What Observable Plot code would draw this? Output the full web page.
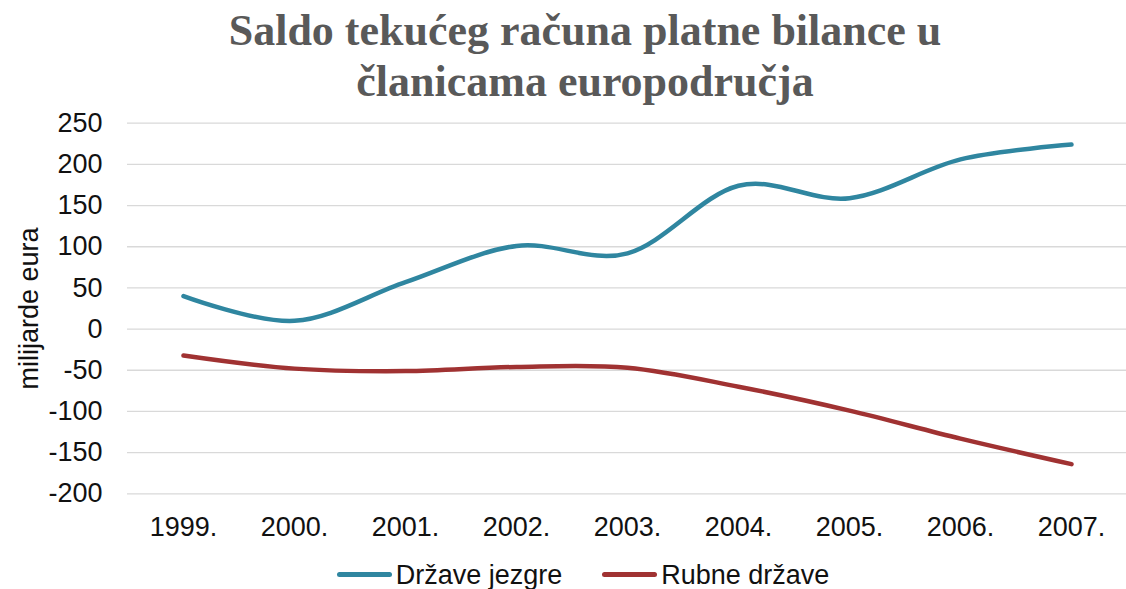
<!DOCTYPE html>
<html>
<head>
<meta charset="utf-8">
<script src="https://cdn.jsdelivr.net/npm/d3@7"></script>
<script src="https://cdn.jsdelivr.net/npm/@observablehq/plot@0.6"></script>
<style>
  html, body { margin: 0; padding: 0; background: #fff; }
  #title {
    font-family: "Liberation Serif", "Times New Roman", serif;
    font-weight: bold; font-size: 44px; line-height: 51px;
    color: #595959; text-align: center;
    box-sizing: border-box; height: 108px; padding-top: 5px; padding-left: 44px;
    width: 1126px;
  }
  #legend {
    font-family: "Liberation Sans", Arial, sans-serif; font-size: 27px; color: #111;
    display: flex; justify-content: center; align-items: center;
    box-sizing: border-box; width: 1126px; height: 41px; padding-top: 12px; padding-left: 40px;
    line-height: 30px;
  }
  .item { display: flex; align-items: center; margin-right: 40px; }
  .item:last-child { margin-right: 0; }
  .sw { display: inline-block; width: 55px; height: 4.5px; border-radius: 2.5px; margin-right: 4px; }
</style>
</head>
<body>
<div id="title">Saldo tekućeg računa platne bilance u<br>članicama europodručja</div>
<div id="chart"></div>
<div id="legend"></div>
<script>
const years = ["1999.", "2000.", "2001.", "2002.", "2003.", "2004.", "2005.", "2006.", "2007."];
const seriesNames = ["Države jezgre", "Rubne države"];
const seriesColors = ["#2f86a0", "#a03232"];
const coreValues = [40, 10, 57, 101, 92, 174, 159, 206, 224];
const peripheryValues = [-32, -48, -51, -46, -47, -70, -99, -133, -164];
const yTicks = [-200, -150, -100, -50, 0, 50, 100, 150, 200, 250];
const yLabel = "milijarde eura";

const data = [
  ...years.map((y, i) => ({year: y, value: coreValues[i], series: seriesNames[0]})),
  ...years.map((y, i) => ({year: y, value: peripheryValues[i], series: seriesNames[1]}))
];

const chart = Plot.plot({
  width: 1126,
  height: 440,
  marginLeft: 127,
  marginRight: 0,
  marginTop: 14.7,
  marginBottom: 54.7,
  style: {fontFamily: "'Liberation Sans', Arial, sans-serif", fontSize: "27px", color: "#111", background: "#fff", overflow: "visible"},
  x: {type: "point", domain: years, padding: 0.5, label: null, tickSize: 0, tickPadding: 22.7},
  y: {domain: [-200, 250], ticks: yTicks, tickFormat: d => String(d), label: null, tickSize: 0, tickPadding: 25},
  color: {domain: seriesNames, range: seriesColors},
  marks: [
    Plot.ruleY(yTicks, {stroke: "#d9d9d9", strokeWidth: 1.3}),
    Plot.line(data, {x: "year", y: "value", stroke: "series", z: "series", curve: "cardinal", tension: 0, strokeWidth: 4.5, strokeLinecap: "round", strokeLinejoin: "round"}),
    Plot.text([yLabel], {text: d => d, frameAnchor: "left", textAnchor: "middle", lineAnchor: "middle", dx: -98, rotate: -90, fontSize: 27, fill: "#111"})
  ]
});
document.getElementById("chart").appendChild(chart);

const legend = d3.select("#legend");
seriesNames.forEach((name, i) => {
  const it = legend.append("div").attr("class", "item");
  it.append("span").attr("class", "sw").style("background", seriesColors[i]);
  it.append("span").text(name);
});
</script>
</body>
</html>
